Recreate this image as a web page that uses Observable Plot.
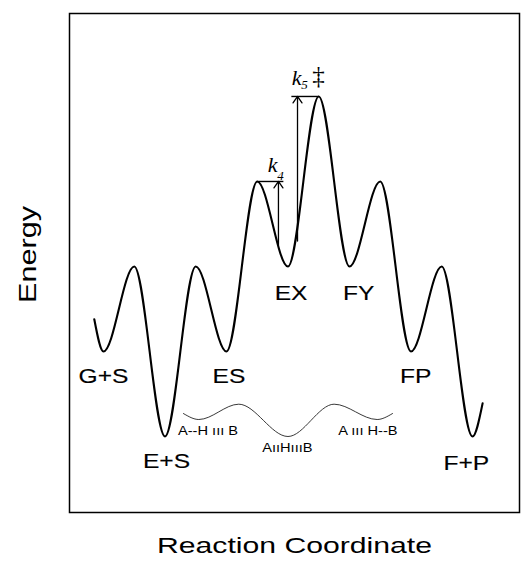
<!DOCTYPE html>
<html>
<head>
<meta charset="utf-8">
<script src="https://cdn.jsdelivr.net/npm/d3@7"></script>
<script src="https://cdn.jsdelivr.net/npm/@observablehq/plot@0.6"></script>
<style>
  html, body { margin: 0; padding: 0; background: #fff; }
  #chart { width: 521px; height: 575px; }
</style>
</head>
<body>
<div id="chart"></div>
<script>
// Reaction coordinate (state index) and energy level of the main profile
const pathX = [-0.3, 0, 1, 2, 3, 4, 5, 6, 7, 8, 9, 10, 11, 12, 12.33];
const pathE = [1.38, 1, 2, 0, 2, 1, 3, 2, 4, 2, 3, 1, 2, 0, 0.39];

// Small proton-transfer wave
const waveX = [2.6, 3.1, 4.4, 6, 7.5, 8.9, 9.4];
const waveE = [0.27, 0.2, 0.38, 0, 0.38, 0.2, 0.27];

// State labels
const stateLabels = ["G+S", "E+S", "ES", "EX", "FY", "FP", "F+P"];
const stateX = [0, 2.05, 4.08, 6.1, 8.3, 10.15, 11.8];
const stateE = [0.71, -0.29, 0.71, 1.68, 1.68, 0.71, -0.31];

// Wave labels
const waveLabels = ["A--H \u0131\u0131\u0131 B", "A\u0131\u0131H\u0131\u0131\u0131B", "A \u0131\u0131\u0131 H--B"];
const waveLabelX = [3.4, 5.98, 8.6];
const waveLabelE = [0.07, -0.13, 0.07];

// Rate-constant arrows
const arrowX = [5.69, 6.31];
const arrowBottom = [2.25, 2.3];
const arrowTop = [3, 4];
const levelX1 = [5, 6.11];
const levelX2 = [5.85, 7];
const levelE = [3, 4];
const kX = [5.5, 6.28];
const kE = [3.19, 4.22];
const kSubs = ["4", "5"];
const kSubX = [5.76, 6.54];
const kSubE = [3.07, 4.14];
const daggerX = [6.99];
const daggerE = [4.24];

// Axis titles
const xTitle = "Reaction Coordinate";
const yTitle = "Energy";

const profile = pathX.map((x, i) => ({x, e: pathE[i]}));
const wave = waveX.map((x, i) => ({x, e: waveE[i]}));
const states = stateLabels.map((t, i) => ({t, x: stateX[i], e: stateE[i]}));
const wlabels = waveLabels.map((t, i) => ({t, x: waveLabelX[i], e: waveLabelE[i]}));
const arrows = arrowX.map((x, i) => ({x, y1: arrowBottom[i], y2: arrowTop[i]}));
const levels = levelX1.map((x1, i) => ({x1, x2: levelX2[i], e: levelE[i]}));
const ks = kX.map((x, i) => ({x, e: kE[i]}));
const subs = kSubs.map((t, i) => ({t, x: kSubX[i], e: kSubE[i]}));
const daggers = daggerX.map((x, i) => ({x, e: daggerE[i]}));

const sans = "Liberation Sans";
const serif = "Liberation Serif";

const chart = Plot.plot({
  width: 521,
  height: 575,
  marginLeft: 69,
  marginRight: 2,
  marginTop: 13,
  marginBottom: 63,
  x: {domain: [-1.106, 13.53], axis: null},
  y: {domain: [-0.894, 4.976], axis: null},
  style: {background: "#fff"},
  marks: [
    Plot.frame({stroke: "#000", strokeWidth: 1.5}),
    Plot.line(profile, {x: "x", y: "e", curve: "monotone-x", stroke: "#000", strokeWidth: 2.1}),
    Plot.line(wave, {x: "x", y: "e", curve: "monotone-x", stroke: "#222", strokeWidth: 0.9}),
    Plot.link(levels, {x1: "x1", x2: "x2", y1: "e", y2: "e", stroke: "#000", strokeWidth: 1.4}),
    Plot.arrow(arrows, {x1: "x", x2: "x", y1: "y1", y2: "y2", stroke: "#000", strokeWidth: 1.3, headLength: 9, headAngle: 70, bend: 0}),
    Plot.text(states, {x: "x", y: "e", text: "t", fontFamily: sans, fontSize: 21, fill: "#000", stroke: "#000", strokeWidth: 0.15}),
    Plot.text(wlabels, {x: "x", y: "e", text: "t", fontFamily: sans, fontSize: 12.5, fill: "#000"}),
    Plot.text(ks, {x: "x", y: "e", text: () => "k", fontFamily: serif, fontStyle: "italic", fontSize: 22, fill: "#000"}),
    Plot.text(subs, {x: "x", y: "e", text: "t", fontFamily: serif, fontStyle: "italic", fontSize: 13, fill: "#000"}),
    Plot.text(daggers, {x: "x", y: "e", text: () => "\u2021", fontFamily: serif, fontSize: 25, fill: "#000"}),
    Plot.text([xTitle], {frameAnchor: "bottom", dy: 40, text: d => d, fontFamily: sans, fontSize: 22, fill: "#000"}),
    Plot.text([yTitle], {frameAnchor: "left", dx: -41, dy: 40, rotate: -90, text: d => d, fontFamily: sans, fontSize: 23.5, fill: "#000"})
  ]
});

document.getElementById("chart").appendChild(chart);

// The original lettering is a horizontally widened Helvetica: stretch the sans labels
d3.select(chart).selectAll("text").each(function() {
  const ff = this.getAttribute("font-family") || (this.parentNode && this.parentNode.getAttribute("font-family"));
  if (ff !== sans) return;
  const t = this.textContent;
  let target;
  if (t === xTitle) target = 275;
  else if (t === yTitle) target = 97;
  else target = this.getComputedTextLength() * 1.17;
  d3.select(this).attr("textLength", target).attr("lengthAdjust", "spacingAndGlyphs");
});
</script>
</body>
</html>
